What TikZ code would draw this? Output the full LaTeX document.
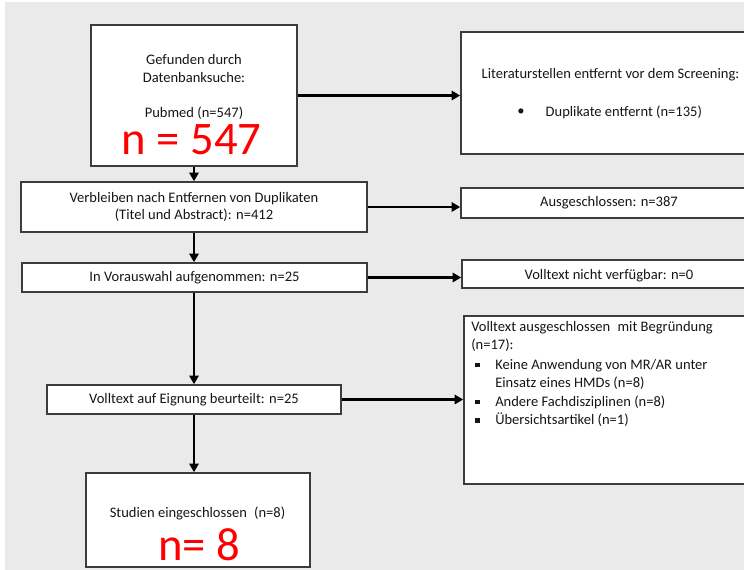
\documentclass[tikz,border=0pt]{standalone}
\usepackage{fontspec}
\setmainfont{Carlito}
\usetikzlibrary{arrows.meta}
\definecolor{bg}{HTML}{EAEAEA}
\definecolor{edge}{HTML}{3C3C3C}
\definecolor{txt}{HTML}{161616}
\newcommand\sqbul{\makebox[18pt][l]{\hspace{3pt}\rule[1.6pt]{3.4pt}{3.4pt}}}
\begin{document}
\begin{tikzpicture}[x=0.75pt,y=-0.75pt,
  box/.style={draw=edge,line width=1.15pt,fill=white,inner sep=0pt},
  txtf/.style={font=\fontsize{10.9}{13.3}\selectfont,text=txt},
  redf/.style={font=\fontsize{35}{38}\selectfont,text=red,inner sep=0pt},
  arr/.style={line width=2pt,draw=black,-{Triangle[length=6.5pt,width=7pt]}}]
\clip (0,0) rectangle (744,570);
\useasboundingbox (0,0) rectangle (744,570);
\fill[white] (0,0) rectangle (744,570);
\fill[bg] (5,2) rectangle (744,570);

% left column
\node[box,minimum width={206*0.75pt},minimum height={141*0.75pt}] (b1) at (194,95.5) {};
\node[txtf,align=center] (t1) at (194,87) {Gefunden durch\\Datenbanksuche:\\[13.3pt]Pubmed (n=547)};
\node[redf] (r1) at (191.5,139.5) {n = 547};

\node[box,txtf,align=center,minimum width={346*0.75pt},minimum height={50*0.75pt}] (b2) at (194,207)
  {Verbleiben nach Entfernen von Duplikaten\\(Titel und Abstract): n=412};

\node[box,txtf,minimum width={345*0.75pt},minimum height={29*0.75pt}] (b3) at (194.5,277.5)
  {In Vorauswahl aufgenommen: n=25};

\node[box,txtf,minimum width={294*0.75pt},minimum height={29*0.75pt}] (b4) at (194,399.5)
  {Volltext auf Eignung beurteilt: n=25};

\node[box,minimum width={224*0.75pt},minimum height={94*0.75pt}] (b5) at (198,520) {};
\node[txtf] (t5) at (197.5,513) {Studien eingeschlossen\enspace(n=8)};
\node[redf] (r5) at (199,545) {n= 8};

% right column
\node[box,minimum width={304*0.75pt},minimum height={122*0.75pt}] (lit) at (613,93) {};
\node[txtf,anchor=west] (lit1) at (477,75) {Literaturstellen entfernt vor dem Screening:};
\node[txtf] (lit2) at (521,112) {•};
\node[txtf,anchor=west] (lit3) at (541,112) {Duplikate entfernt (n=135)};

\node[box,minimum width={304*0.75pt},minimum height={30*0.75pt}] (aus) at (613,203) {};
\node[txtf] (aust) at (609,203) {Ausgeschlossen: n=387};

\node[box,minimum width={303*0.75pt},minimum height={28*0.75pt}] (vnv) at (613.5,274) {};
\node[txtf] (vnvt) at (609,276) {Volltext nicht verfügbar: n=0};

\node[box,minimum width={301*0.75pt},minimum height={168*0.75pt}] (vaus) at (614.5,400) {};
\node[txtf,font=\fontsize{10.9}{13.8}\selectfont,align=left,anchor=north west,inner sep=0pt] (vaust) at (471,321)
  {Volltext ausgeschlossen\enspace mit Begründung\\
   (n=17):\\[1pt]
   \sqbul Keine Anwendung von MR/AR unter\\
   \hspace*{18pt}Einsatz eines HMDs (n=8)\\
   \sqbul Andere Fachdisziplinen (n=8)\\
   \sqbul Übersichtsartikel (n=1)};

% connectors
\draw[arr] (b1.south) -- (b2.north);
\draw[arr] (b2.south) -- (b2.south |- b3.north);
\draw[arr] (b3.south -| b4.north) -- (b4.north);
\draw[arr] (b4.south) -- (b4.south |- b5.north);
\draw[arr] (b1.east) -- (b1.east -| lit.west);
\draw[arr] (b2.east) -- (b2.east -| aus.west);
\draw[arr] (b3.east) -- (b3.east -| vnv.west);
\draw[arr] (b4.east) -- (b4.east -| vaus.west);
\end{tikzpicture}
\end{document}
